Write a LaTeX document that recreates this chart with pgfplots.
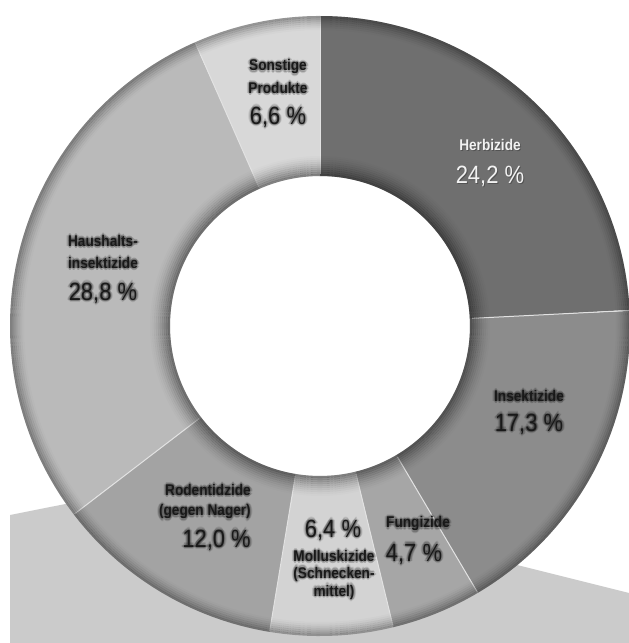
\documentclass[border=0pt]{standalone}
\usepackage{pgfplots}
\pgfplotsset{compat=1.18}
\usepackage{pgfplotstable}
\usepackage{fontspec}
\setmainfont{Liberation Sans}[FakeStretch=0.88]

\definecolor{c0}{HTML}{6F6F6F}
\definecolor{c1}{HTML}{8C8C8C}
\definecolor{c2}{HTML}{A6A6A6}
\definecolor{c3}{HTML}{D3D3D3}
\definecolor{c4}{HTML}{A3A3A3}
\definecolor{c5}{HTML}{BABABA}
\definecolor{c6}{HTML}{D8D8D8}
\definecolor{floor}{HTML}{CBCBCB}
\definecolor{sep}{HTML}{E2E2E2}

\pgfplotstableread{
name start value
Herbizide 0 24.2
Insektizide 24.2 17.3
Fungizide 41.5 4.7
Molluskizide 46.2 6.4
Rodentizide 52.6 12.0
Haushaltsinsektizide 64.6 28.8
Sonstige 93.4 6.6
}\shares

\newcommand{\lbl}[5]{% anchor, x, y, font, text
  \foreach \dx/\dy in {1.6/0,-1.6/0,0/1.6,0/-1.6,1.1/1.1,-1.1/1.1,1.1/-1.1,-1.1/-1.1,2.4/0,-2.4/0,0/2.4,0/-2.4}{
    \node[text=black, opacity=0.10, anchor=#1, inner sep=0pt, font=#4] at ([shift={(#2pt+\dx pt,#3pt+\dy pt)}]O) {#5};
  }
  \node[text=black!90, anchor=#1, inner sep=0pt, font=#4] at ([shift={(#2pt,#3pt)}]O) {#5};
}
\newcommand{\lf}{\fontsize{15.5}{18}\selectfont\bfseries}
\newcommand{\pf}{\fontsize{25}{28}\selectfont}

\begin{document}
\begin{tikzpicture}
\begin{axis}[name=ax, x=1pt, y=1pt, xmin=-320, xmax=309, ymin=-317, ymax=326,
  hide axis, clip=true]
\coordinate (O) at (axis cs:0,0);
% floor plane
\addplot[fill=floor, draw=none] coordinates {(-310,-317) (-310,-189) (-139,-155) (309,-267) (309,-317)} -- cycle;
% ring segments
\pgfplotsinvokeforeach{0,...,6}{
  \pgfplotstablegetelem{#1}{start}\of\shares
  \pgfmathsetmacro\a{90-3.6*\pgfplotsretval}
  \pgfplotstablegetelem{#1}{value}\of\shares
  \pgfmathsetmacro\b{\a-3.6*\pgfplotsretval}
  \edef\temp{\noexpand\addplot[draw=c#1, line width=160pt, line cap=butt, domain=\b:\a, samples=120, variable=\noexpand\t, no marks] ({230*cos(\noexpand\t)},{230*sin(\noexpand\t)});}
  \temp
}
% separators
\pgfplotsinvokeforeach{0,...,6}{
  \pgfplotstablegetelem{#1}{start}\of\shares
  \pgfmathsetmacro\a{90-3.6*\pgfplotsretval}
  \edef\temp{\noexpand\addplot[draw=sep, line width=1pt, domain=152:309, samples=2, variable=\noexpand\r, no marks] ({\noexpand\r*cos(\a)},{\noexpand\r*sin(\a)});}
  \temp
}
% inner shadow rings
\pgfplotsinvokeforeach{1,...,10}{
  \pgfmathsetmacro\rr{149+2*#1}
  \pgfmathsetmacro\op{0.46*(1-#1/11)^1.6}
  \edef\temp{\noexpand\addplot[draw=black, draw opacity=\op, line width=2.1pt, domain=0:360, samples=180, variable=\noexpand\t, no marks] ({\rr*cos(\noexpand\t)},{\rr*sin(\noexpand\t)});}
  \temp
}
% outer shadow rings
\pgfplotsinvokeforeach{1,...,7}{
  \pgfmathsetmacro\rr{311-2*#1}
  \pgfmathsetmacro\op{0.38*(1-#1/8)^1.5}
  \edef\temp{\noexpand\addplot[draw=black, draw opacity=\op, line width=2.1pt, domain=0:360, samples=180, variable=\noexpand\t, no marks] ({\rr*cos(\noexpand\t)},{\rr*sin(\noexpand\t)});}
  \temp
}
\end{axis}
% labels
\lbl{center}{-42}{259}{\lf}{Sonstige}
\lbl{center}{-42}{238}{\lf}{Produkte}
\lbl{center}{-42}{209}{\pf}{6,6 \%}
\node[text=black, opacity=0.25, font=\lf, inner sep=0pt] at ([shift={(171pt,180pt)}]O) {Herbizide};
\node[text=black, opacity=0.25, font=\pf, inner sep=0pt] at ([shift={(171pt,149pt)}]O) {24,2 \%};
\node[text=white!95!black, font=\lf, inner sep=0pt] at ([shift={(170pt,181pt)}]O) {Herbizide};
\node[text=white!95!black, font=\pf, inner sep=0pt] at ([shift={(170pt,150pt)}]O) {24,2 \%};
\lbl{center}{-217}{85}{\lf}{Haushalts-}
\lbl{center}{-217}{63}{\lf}{insektizide}
\lbl{center}{-217}{33}{\pf}{28,8 \%}
\lbl{center}{209}{-70}{\lf}{Insektizide}
\lbl{center}{209}{-98}{\pf}{17,3 \%}
\lbl{east}{-69}{-164}{\lf}{Rodentidzide}
\lbl{east}{-69}{-186}{\lf}{(gegen Nager)}
\lbl{east}{-69}{-214}{\pf}{12,0 \%}
\lbl{center}{13}{-204}{\pf}{6,4 \%}
\lbl{center}{14}{-230}{\lf}{Molluskizide}
\lbl{center}{14}{-248}{\lf}{(Schnecken-}
\lbl{center}{14}{-266}{\lf}{mittel)}
\lbl{center}{98}{-198}{\lf}{Fungizide}
\lbl{center}{94}{-228}{\pf}{4,7 \%}
\pgfresetboundingbox
\path (ax.south west) rectangle (ax.north east);
\end{tikzpicture}
\end{document}
